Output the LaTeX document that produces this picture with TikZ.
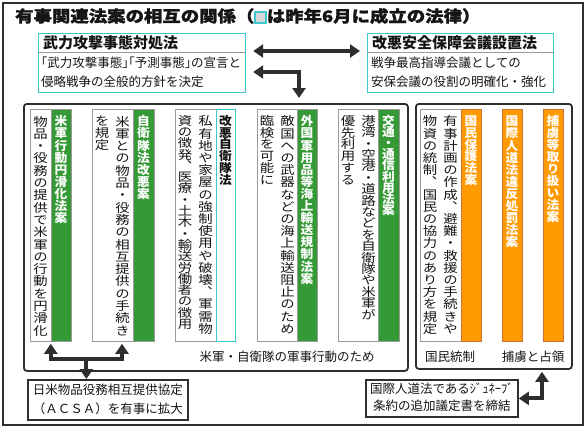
\documentclass[tikz,border=0pt]{standalone}
\usepackage{fontspec}
\setmainfont{Noto Sans CJK JP}
\newfontfamily\jpv[RawFeature={+vert},FakeStretch=1.2]{Noto Sans CJK JP}
\newfontfamily\jpvh[RawFeature={+vert},FakeStretch=1.06]{Noto Sans CJK JP}
\newfontfamily\jph[RawFeature={+halt}]{Noto Sans CJK JP}
\newfontfamily\ttlfont[FakeStretch=1.15,BoldFeatures={FakeBold=1.2}]{Noto Sans CJK JP}
\usetikzlibrary{arrows.meta,calc}
\definecolor{cyanb}{HTML}{3CC8CC}
\definecolor{grn}{HTML}{359A35}
\definecolor{org}{HTML}{FF9A00}
\definecolor{orgb}{HTML}{D0703A}
\definecolor{dk}{HTML}{2E2E2E}
\definecolor{gb}{HTML}{9A9A9A}
\definecolor{txt}{HTML}{151515}
\definecolor{sqgray}{HTML}{D8D8D8}
\makeatletter
\newcommand\vtxt[2]{\vbox{\offinterlineskip\@tfor\vt@c:=#2\do{\hbox to 1em{\vrule height .88\dimexpr#1\relax depth .12\dimexpr#1\relax width 0pt\hss\smash{\vt@c}\hss}}}}
\makeatother
\newcommand\ttlsq{\raisebox{-0.02em}{\setlength\fboxsep{0pt}\setlength\fboxrule{1.4pt}\fcolorbox{cyanb}{sqgray}{\rule{0pt}{0.6em}\rule{0.6em}{0pt}}}}
\begin{document}
\begin{tikzpicture}[x=1pt,y=-1pt,
  arr/.style={draw=dk, line width=4pt, line join=miter},
  tipb/.style={{Triangle[length=10pt,width=13pt]}-{Triangle[length=10pt,width=13pt]}},
  tipe/.style={-{Triangle[length=10pt,width=13pt]}},
  tbox/.style={draw=cyanb, line width=1.2pt, fill=white, anchor=north west, inner sep=0pt},
  hdr/.style={anchor=west, inner sep=0pt, text=txt, font=\bfseries\fontsize{15pt}{15pt}\selectfont},
  body/.style={anchor=west, inner sep=0pt, text=txt, font=\fontsize{12.5pt}{12.5pt}\selectfont},
  mbox/.style={draw=dk, line width=1.8pt, rounded corners=3pt, anchor=north west, inner sep=0pt, fill=white},
  colw/.style={draw=gb, line width=0.8pt, fill=white, anchor=north west, inner sep=0pt, minimum height=232pt},
  colg/.style={colw, fill=grn},
  colc/.style={colw, draw=cyanb, line width=1pt},
  colo/.style={colw, fill=org, draw=orgb},
  vt/.style={anchor=north, inner sep=0pt, text=txt, font=\jpv\fontsize{12pt}{12pt}\selectfont},
  vth/.style={vt, text=white, font=\jpvh\bfseries\fontsize{12pt}{12pt}\selectfont},
  vtc/.style={vt, font=\jpvh\bfseries\fontsize{12pt}{12pt}\selectfont},
  lab/.style={inner sep=0pt, text=txt, font=\fontsize{12.5pt}{12.5pt}\selectfont},
  bbox/.style={draw=dk, line width=1.8pt, fill=white, anchor=north west, inner sep=0pt}
]
\useasboundingbox (0,0) rectangle (585,426);
\fill[white] (0,0) rectangle (585,426);
\node[draw=dk, line width=1.5pt, minimum width=580pt, minimum height=422pt, anchor=north west, inner sep=0pt] (frame) at (2,2) {};

% title
\node[anchor=west, inner sep=0pt, text=txt, font=\ttlfont\bfseries\fontsize{16pt}{16pt}\selectfont] (title) at (15,16) {有事関連法案の相互の関係（\ttlsq は昨年6月に成立の法律）};

% top boxes
\node[tbox, minimum width=207pt, minimum height=59pt] (tl) at (38,33) {};
\draw[gb, line width=0.8pt] ($(tl.north west)+(0,19)$) -- ($(tl.north east)+(0,19)$);
\node[hdr] (tlh) at ($(tl.north west)+(5,10)$) {武力攻撃事態対処法};
\node[body, font=\jph\fontsize{12.5pt}{12.5pt}\selectfont] (tl1) at ($(tl.north west)+(3,30)$) {「武力攻撃事態」「予測事態」の宣言と};
\node[body] (tl2) at ($(tl.north west)+(3,49)$) {侵略戦争の全般的方針を決定};

\node[tbox, minimum width=186pt, minimum height=59pt] (tr) at (367,33) {};
\draw[gb, line width=0.8pt] ($(tr.north west)+(0,19)$) -- ($(tr.north east)+(0,19)$);
\node[hdr] (trh) at ($(tr.north west)+(5,10)$) {改悪安全保障会議設置法};
\node[body] (tr1) at ($(tr.north west)+(4,30)$) {戦争最高指導会議としての};
\node[body] (tr2) at ($(tr.north west)+(4,49)$) {安保会議の役割の明確化・強化};

% main boxes
\node[mbox, minimum width=384pt, minimum height=267pt] (m1) at (23,103) {};
\node[mbox, minimum width=156pt, minimum height=265pt] (m2) at (415,103) {};

% top arrows
\draw[arr, tipb] ($(tl.north east)+(7,18)$) -- ($(tr.north west)+(-7,18)$);
\draw[arr, tipb] ($(tl.north east)+(7,39)$) -| ($(m1.north west)+(276,-5)$);

% column 1
\node[colw, minimum width=21pt] (c1w) at (30,109) {};
\node[colg, minimum width=20pt] (c1g) at (51,109) {};
\node[vt] (t1a) at (40.5,115) {\vtxt{12.3pt}{物品・役務の提供で米軍の行動を円滑化}};
\node[vth] (t1h) at (61,115) {\vtxt{12.1pt}{米軍行動円滑化法案}};

% column 2
\node[colw, minimum width=41pt] (c2w) at (92,109) {};
\node[colg, minimum width=21pt] (c2g) at (133,109) {};
\node[vt] (t2a) at (122.5,115) {\vtxt{12.3pt}{米軍との物品・役務の相互提供の手続き}};
\node[vt] (t2b) at (102,115) {\vtxt{12pt}{を規定}};
\node[vth] (t2h) at (143.5,115) {\vtxt{12.1pt}{自衛隊法改悪案}};

% column 3
\node[colw, minimum width=41pt] (c3w) at (175,109) {};
\node[colc, minimum width=19pt] (c3c) at (216,109) {};
\node[vt] (t3a) at (205.5,115) {\vtxt{12.2pt}{私有地や家屋の強制使用や破壊、軍需物}};
\node[vt] (t3b) at (185,115) {\vtxt{11.3pt}{資の徴発、医療・土木・輸送労働者の徴用}};
\node[vtc] (t3h) at (225.5,115) {\vtxt{11.7pt}{改悪自衛隊法}};

% column 4
\node[colw, minimum width=40pt] (c4w) at (257,109) {};
\node[colg, minimum width=20pt] (c4g) at (297,109) {};
\node[vt] (t4a) at (287.5,115) {\vtxt{12.2pt}{敵国への武器などの海上輸送阻止のため}};
\node[vt] (t4b) at (267,115) {\vtxt{11.7pt}{臨検を可能に}};
\node[vth] (t4h) at (307,115) {\vtxt{12.1pt}{外国軍用品等海上輸送規制法案}};

% column 5
\node[colw, minimum width=40pt] (c5w) at (338,109) {};
\node[colg, minimum width=21pt] (c5g) at (378,109) {};
\node[vt] (t5a) at (368.5,115) {\vtxt{11.4pt}{港湾・空港・道路などを自衛隊や米軍が}};
\node[vt] (t5b) at (348,115) {\vtxt{11.7pt}{優先利用する}};
\node[vth] (t5h) at (388.5,115) {\vtxt{11.2pt}{交通・通信利用法案}};

% column 6
\node[colw, minimum width=41pt] (c6w) at (420,109) {};
\node[colo, minimum width=20pt] (c6o) at (461,109) {};
\node[vt] (t6a) at (450.5,115) {\vtxt{12.2pt}{有事計画の作成、避難・救援の手続きや}};
\node[vt] (t6b) at (430,115) {\vtxt{12.2pt}{物資の統制、国民の協力のあり方を規定}};
\node[vth] (t6h) at (471,115) {\vtxt{11.8pt}{国民保護法案}};

% column 7, 8
\node[colo, minimum width=20pt] (c7o) at (502,109) {};
\node[vth] (t7h) at (512,115) {\vtxt{12.1pt}{国際人道法違反処罰法案}};
\node[colo, minimum width=20pt] (c8o) at (543,109) {};
\node[vth] (t8h) at (553,115) {\vtxt{12pt}{捕虜等取り扱い法案}};

% labels
\node[lab] (l1) at (287,357) {米軍・自衛隊の軍事行動のため};
\node[lab] (l2) at (450,357) {国民統制};
\node[lab] (l3) at (533,357) {捕虜と占領};

% bottom boxes
\node[bbox, minimum width=160pt, minimum height=40pt] (bl) at (27,379) {};
\node[lab] (bl1) at ($(bl.north)+(0,11)$) {日米物品役務相互提供協定};
\node[lab] (bl2) at ($(bl.north)+(0,30)$) {（ＡＣＳＡ）を有事に拡大};
\node[bbox, minimum width=152pt, minimum height=37pt] (br) at (365,379) {};
\node[lab] (br1) at ($(br.north)+(0,10)$) {国際人道法であるｼﾞｭﾈｰﾌﾞ};
\node[lab] (br2) at ($(br.north)+(0,27)$) {条約の追加議定書を締結};

% bottom arrows
\coordinate (a1) at ($(c1w.south east)+(-1,2)$);
\coordinate (a2) at ($(c2w.south west)+(30,2)$);
\coordinate (a3) at ($(a1)!0.5!(a2)+(0,15)$);
\draw[arr, tipb] (a1) -- ($(a1)+(0,15)$) -| (a2);
\draw[arr, tipe] (a3) -- (a3 |- bl.north);
\coordinate (a4) at ($(m2.south west)+(127,2)$);
\draw[arr, tipb] (a4) |- (br.east);
\end{tikzpicture}
\end{document}
